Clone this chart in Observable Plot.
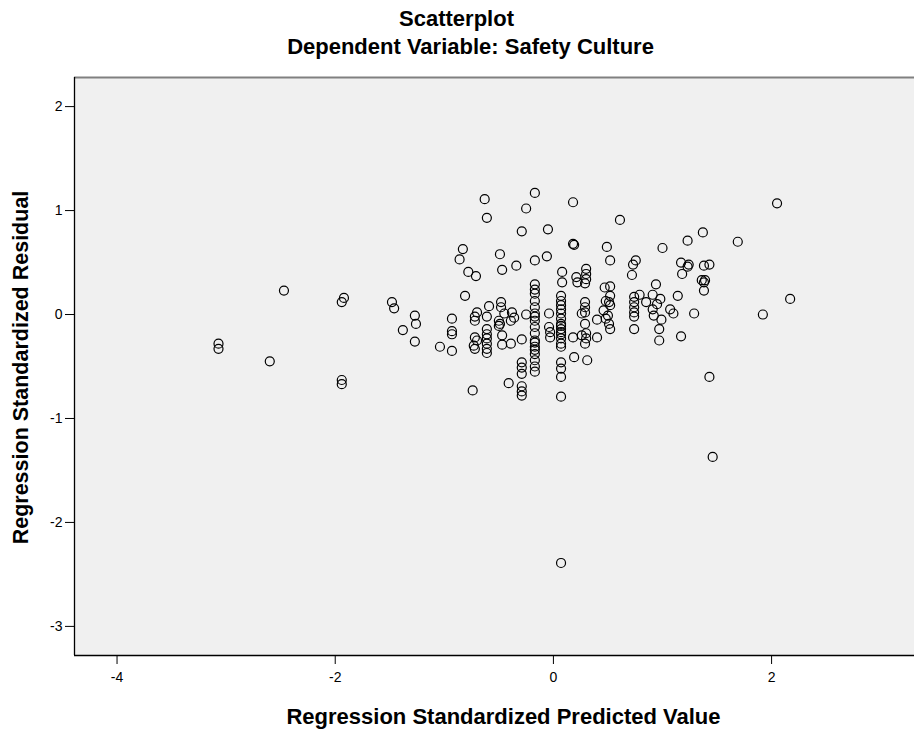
<!DOCTYPE html>
<html>
<head>
<meta charset="utf-8">
<script src="https://cdn.jsdelivr.net/npm/d3@7"></script>
<script src="https://cdn.jsdelivr.net/npm/@observablehq/plot@0.6"></script>
<style>
  html, body { margin: 0; padding: 0; background: #fff; }
  #chart svg { display: block; }
</style>
</head>
<body>
<div id="chart"></div>
<script>
const chartTitle = "Scatterplot";
const chartSubtitle = "Dependent Variable: Safety Culture";
const xLabel = "Regression Standardized Predicted Value";
const yLabel = "Regression Standardized Residual";

const xTicks = [-4, -2, 0, 2];
const yTicks = [-3, -2, -1, 0, 1, 2];
const xDomain = [-4.39, 3.31];
const yDomain = [-3.28, 2.28];

const predicted = [
  -3.07, -3.07, -2.60, -2.47, -1.92, -1.94, -1.94, -1.94, -1.48, -1.46, -1.27, -1.26, -1.38, -1.27, -1.04,
  -0.93, -0.93, -0.93, -0.93, -0.81, -0.78, -0.71, -0.83, -0.86, -0.74,
  -0.70, -0.72, -0.72, -0.61, -0.59, -0.61, -0.61, -0.61, -0.61, -0.61, -0.61, -0.72, -0.73, -0.72, -0.70, -0.63, -0.61,
  -0.48, -0.48, -0.50, -0.49, -0.50, -0.45, -0.38, -0.36, -0.39, -0.47, -0.47, -0.39, -0.49, -0.47, -0.34, -0.41,
  -0.29, -0.29, -0.29, -0.29, -0.29, -0.29, -0.29, -0.25, -0.25, -0.29,
  -0.17, -0.17, -0.17, -0.17, -0.17, -0.17, -0.17, -0.17, -0.17, -0.17, -0.17, -0.17, -0.17, -0.17, -0.17, -0.17, -0.17, -0.17, -0.17, -0.17,
  -0.05, -0.06, -0.04, -0.04, -0.03, -0.03,
  0.08, 0.08, 0.07, 0.07, 0.07, 0.07, 0.07, 0.07, 0.07, 0.07, 0.07, 0.07, 0.07, 0.07, 0.07, 0.07, 0.07, 0.07, 0.07, 0.07, 0.07,
  0.18, 0.18, 0.19, 0.21, 0.22, 0.29, 0.30, 0.30, 0.30, 0.29, 0.29, 0.29, 0.26, 0.29, 0.18, 0.26, 0.29, 0.19, 0.31, 0.30, 0.30,
  0.40, 0.40, 0.49, 0.52, 0.47, 0.52, 0.52, 0.51, 0.52, 0.48, 0.48, 0.51, 0.52, 0.61, 0.46, 0.50,
  0.755, 0.73, 0.72, 0.74, 0.74, 0.74, 0.74, 0.74, 0.74, 0.79, 0.85, 0.91, 0.98, 0.95, 0.91, 0.92, 0.99, 0.97, 0.97, 0.94, 1.00,
  1.14, 1.07, 1.10, 1.29, 1.17, 1.38, 1.38, 1.43, 2.05, 1.69, 1.37, 1.23, 1.17, 1.23, 1.24, 1.18, 1.38, 1.43, 1.36, 1.39, 1.92, 2.17, 1.46
];

const residual = [
  -0.28, -0.33, -0.45, 0.23, 0.16, 0.12, -0.63, -0.67, 0.12, 0.06, -0.01, -0.09, -0.15, -0.26, -0.31,
  -0.04, -0.16, -0.19, -0.35, 0.18, 0.41, 0.37, 0.63, 0.53, -0.73,
  0.02, -0.02, -0.06, -0.02, 0.08, -0.14, -0.19, -0.23, -0.28, -0.33, -0.37, -0.22, -0.30, -0.33, -0.25, 1.11, 0.93,
  0.12, 0.07, -0.06, -0.09, -0.11, 0.01, 0.02, -0.03, -0.06, -0.20, -0.29, -0.28, 0.58, 0.43, 0.47, -0.66,
  -0.24, -0.46, -0.51, -0.57, -0.69, -0.74, -0.78, 0.00, 1.02, 0.80,
  1.17, 0.52, 0.29, 0.24, 0.20, 0.13, 0.07, 0.01, -0.02, -0.06, -0.12, -0.18, -0.25, -0.31, -0.38, -0.44, -0.50, -0.55, -0.34, -0.27,
  0.82, 0.56, 0.01, -0.12, -0.17, -0.22,
  0.41, 0.31, 0.18, 0.13, 0.09, 0.01, -0.04, -0.09, -0.14, -0.19, -0.23, -0.28, -0.31, -0.46, -0.52, -0.60, -0.79, -2.39, 0.05, -0.11, -0.17,
  1.08, 0.68, 0.67, 0.36, 0.31, 0.30, 0.44, 0.39, 0.34, 0.12, 0.07, 0.02, 0.01, -0.09, -0.22, -0.20, -0.28, -0.41, -0.44, -0.18, -0.23,
  -0.22, -0.05, 0.65, 0.52, 0.26, 0.27, 0.18, 0.12, 0.09, 0.13, -0.04, -0.09, -0.14, 0.91, 0.04, -0.01,
  0.52, 0.48, 0.38, 0.17, 0.12, 0.07, 0.02, -0.02, -0.14, 0.19, 0.12, 0.19, 0.15, 0.10, 0.05, -0.01, -0.05, -0.14, -0.25, 0.29, 0.64,
  0.18, 0.05, 0.01, 0.01, -0.21, 0.31, 0.23, -0.60, 1.07, 0.70, 0.79, 0.71, 0.50, 0.46, 0.48, 0.39, 0.47, 0.48, 0.33, 0.33, 0.00, 0.15, -1.37
];

const points = predicted.map((x, i) => ({x, y: residual[i]}));
const fmt = d => String(d);
const font = "'Liberation Sans', Arial, Helvetica, sans-serif";

const chart = Plot.plot({
  width: 914,
  height: 729,
  marginLeft: 74,
  marginRight: 0,
  marginTop: 77,
  marginBottom: 74,
  style: {fontFamily: font, fontSize: "14px", color: "#000", background: "#fff", overflow: "visible"},
  x: {domain: xDomain, ticks: xTicks, tickFormat: fmt, tickSize: 9, tickPadding: 8, label: null},
  y: {domain: yDomain, ticks: yTicks, tickFormat: fmt, tickSize: 9, tickPadding: 3, label: null},
  marks: [
    Plot.frame({fill: "#f0f0f0", stroke: null}),
    Plot.ruleY([yDomain[1]], {stroke: "#808080", strokeWidth: 2}),
    Plot.ruleX([xDomain[0]], {stroke: "#000", strokeWidth: 1.3}),
    Plot.ruleY([yDomain[0]], {stroke: "#000", strokeWidth: 1.3}),
    Plot.dot(points, {x: "x", y: "y", r: 4.5, stroke: "#000", strokeWidth: 1.2, fill: "none"}),
    Plot.text([chartTitle], {frameAnchor: "top-left", dx: 382, dy: -59, text: d => d, fontSize: 22, fontWeight: "bold", textAnchor: "middle", lineAnchor: "middle"}),
    Plot.text([chartSubtitle], {frameAnchor: "top-left", dx: 396, dy: -31, text: d => d, fontSize: 22, fontWeight: "bold", textAnchor: "middle", lineAnchor: "middle"}),
    Plot.text([xLabel], {frameAnchor: "bottom-left", dx: 429, dy: 61, text: d => d, fontSize: 22, fontWeight: "bold", textAnchor: "middle", lineAnchor: "middle"}),
    Plot.text([yLabel], {frameAnchor: "left", dx: -53, dy: 1, rotate: -90, text: d => d, fontSize: 21.5, fontWeight: "bold", textAnchor: "middle", lineAnchor: "middle"})
  ]
});
document.getElementById("chart").appendChild(chart);
</script>
</body>
</html>
